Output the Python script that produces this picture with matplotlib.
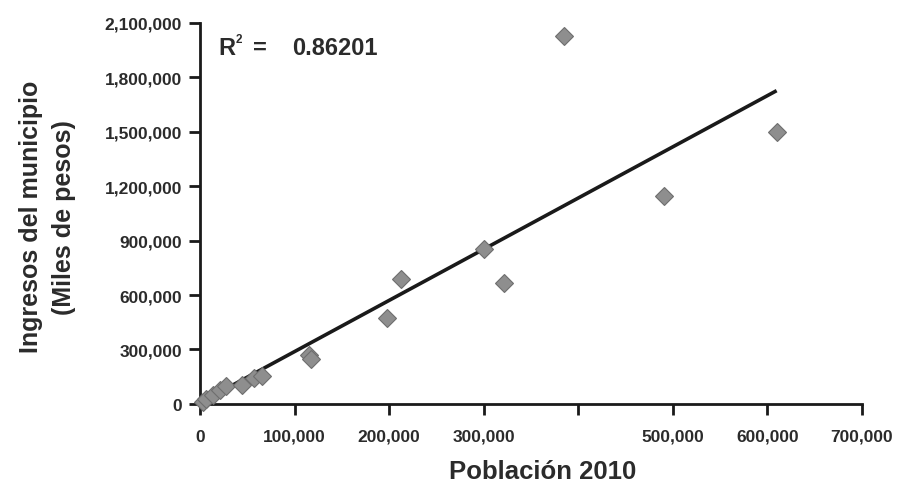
import matplotlib
matplotlib.use("Agg")
import matplotlib.pyplot as plt
import numpy as np
from matplotlib.ticker import FuncFormatter
from matplotlib import font_manager

poblacion = [3000, 6400, 13800, 21200, 27600, 44500, 57300, 65700, 115600, 117700,
             197200, 212000, 300000, 321300, 385000, 491000, 609700]
ingresos = [10000, 27500, 50000, 77000, 99000, 105000, 143000, 154000, 271000, 248000,
            474000, 689000, 854000, 667000, 2028000, 1146000, 1499000]
x_ticks = [0, 100000, 200000, 300000, 400000, 500000, 600000, 700000]
x_tick_labels = ["0", "100,000", "200,000", "300,000", "", "500,000", "600,000", "700,000"]
y_ticks = [0, 300000, 600000, 900000, 1200000, 1500000, 1800000, 2100000]
r2_text = "0.86201"

names = {f.name for f in font_manager.fontManager.ttflist}
fam = ["Liberation Sans Narrow"] if "Liberation Sans Narrow" in names else ["Liberation Sans"]
plt.rcParams['font.family'] = fam + ["DejaVu Sans"]
txt = "#2b2b2b"

fig = plt.figure(figsize=(8.97, 4.89), dpi=100)
ax = fig.add_axes([0.223, 0.172, 0.738, 0.779])

x = np.array(poblacion, dtype=float)
y = np.array(ingresos, dtype=float)
m, b = np.polyfit(x, y, 1)
xs = np.array([x.min(), x.max()])
ax.plot(xs, m * xs + b, color="#1a1a1a", lw=2.6, zorder=2, solid_capstyle="butt")
ax.plot(x, y, linestyle="none", marker="D", markersize=9.5, markerfacecolor="#8e8e8e",
        markeredgecolor="#6e6e6e", markeredgewidth=0.8, zorder=3, clip_on=False)

ax.set_xlim(0, 700000)
ax.set_ylim(0, 2100000)
ax.set_xticks(x_ticks)
ax.set_xticklabels(x_tick_labels)
ax.set_yticks(y_ticks)
ax.yaxis.set_major_formatter(FuncFormatter(lambda v, p: f"{int(v):,}"))

for s in ["top", "right"]:
    ax.spines[s].set_visible(False)
for s in ["left", "bottom"]:
    ax.spines[s].set_linewidth(2)
    ax.spines[s].set_color("#1a1a1a")
ax.tick_params(axis="both", direction="out", length=8, width=2, color="#1a1a1a",
               labelsize=12.5, labelcolor=txt)
ax.tick_params(axis="x", pad=10)
ax.tick_params(axis="y", pad=5)
for lab in ax.get_xticklabels() + ax.get_yticklabels():
    lab.set_fontweight("bold")

ax.set_xlabel("Población 2010", fontsize=18.5, fontweight="bold", color=txt)
ax.xaxis.set_label_coords(0.518, -0.145)
ax.set_ylabel("Ingresos del municipio\n(Miles de pesos)", fontsize=18, fontweight="bold",
              color=txt, linespacing=1.5)
ax.yaxis.set_label_coords(-0.187, 0.493)

ax.text(0.027, 0.935, "R", transform=ax.transAxes, fontsize=17,
        fontweight="bold", color=txt, va="center", ha="left")
ax.text(0.054, 0.958, "2", transform=ax.transAxes, fontsize=8.5,
        fontweight="bold", color=txt, va="center", ha="left")
ax.text(0.080, 0.935, "=", transform=ax.transAxes, fontsize=17,
        fontweight="bold", color=txt, va="center", ha="left")
ax.text(0.139, 0.935, r2_text, transform=ax.transAxes, fontsize=17,
        fontweight="bold", color=txt, va="center", ha="left")

fig.savefig("out.png", dpi=100)
